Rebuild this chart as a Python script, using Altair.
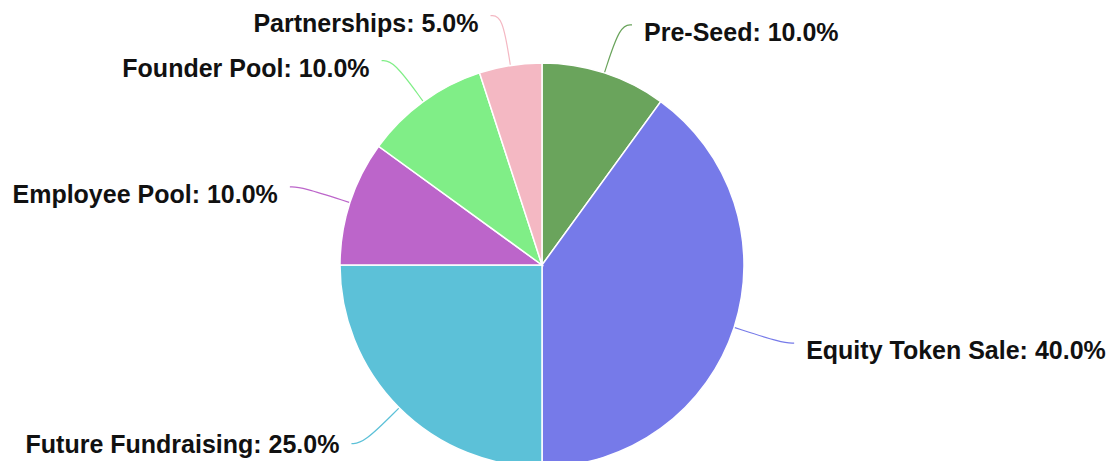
import math
import altair as alt
import pandas as pd

# ---- data ----
categories = ["Pre-Seed", "Equity Token Sale", "Future Fundraising",
              "Employee Pool", "Founder Pool", "Partnerships"]
values = [10.0, 40.0, 25.0, 10.0, 10.0, 5.0]
colors = ["#6aa45c", "#767ae9", "#5cc1d8", "#bc65ca", "#80ee87", "#f4b8c3"]

# ---- layout constants (pixels) ----
W, H = 1101, 453
CX, CY = 534, 257          # pie centre inside the view
R = 202                    # pie radius
ELBOW = 1.25               # connector elbow radius (x R)
HOOK = 12                  # horizontal hook of connector
GAP = 12                   # gap between connector end and label
DY = 8                     # label drop below connector end
BOTTOM_ROOM = 16           # keep label centre this far above the bottom

total = sum(values)
rows, line_rows = [], []
acc = 0.0
for i, (c, v) in enumerate(zip(categories, values)):
    mid = (acc + v / 2) / total * 2 * math.pi
    acc += v
    s, co = math.sin(mid), math.cos(mid)
    side = 1 if s >= 0 else -1
    ex, ey = R * s, R * co
    bx, by = ELBOW * R * s, ELBOW * R * co
    hx = bx + side * HOOK
    ly = by - DY
    ly = max(ly, -(H - CY) + BOTTOM_ROOM)
    rows.append({"cat": c, "value": v, "order": i, "side": side,
                 "label": f"{c}: {v / total * 100:.1f}%",
                 "lx": hx + side * GAP, "ly": ly})
    for k, (px, py) in enumerate([(ex, ey), (bx, by), (hx, by)]):
        line_rows.append({"cat": c, "k": k, "px": px, "py": py})

df = pd.DataFrame(rows)
ldf = pd.DataFrame(line_rows)

xs = alt.Scale(domain=[-CX, W - CX], range=[0, W])
ys = alt.Scale(domain=[-(H - CY), CY], range=[H, 0])
col = alt.Scale(domain=categories, range=colors)

pie = alt.Chart(df).mark_arc(radius=R, stroke="white", strokeWidth=1.5).encode(
    theta=alt.Theta("value:Q", stack=True),
    order=alt.Order("order:Q"),
    color=alt.Color("cat:N", scale=col, legend=None),
    x=alt.XDatum(0, type="quantitative", scale=xs, axis=None),
    y=alt.YDatum(0, type="quantitative", scale=ys, axis=None),
)

lines = alt.Chart(ldf).mark_line(interpolate="basis", strokeWidth=1.2).encode(
    x=alt.X("px:Q", scale=xs, axis=None),
    y=alt.Y("py:Q", scale=ys, axis=None),
    color=alt.Color("cat:N", scale=col, legend=None),
    detail="cat:N",
    order="k:Q",
)

txt_kw = dict(font="Liberation Sans", fontSize=25, fontWeight="bold",
              color="#111111", baseline="middle")
right_txt = alt.Chart(df).transform_filter("datum.side > 0").mark_text(
    align="left", **txt_kw).encode(
    x=alt.X("lx:Q", scale=xs, axis=None),
    y=alt.Y("ly:Q", scale=ys, axis=None),
    text="label:N",
)
left_txt = alt.Chart(df).transform_filter("datum.side < 0").mark_text(
    align="right", **txt_kw).encode(
    x=alt.X("lx:Q", scale=xs, axis=None),
    y=alt.Y("ly:Q", scale=ys, axis=None),
    text="label:N",
)

chart = alt.layer(lines, pie, right_txt, left_txt).properties(
    width=W, height=H, padding=0,
    autosize=alt.AutoSizeParams(type="none"),
).configure_view(stroke=None)

chart.save("out.html", embed_options={"renderer": "svg", "actions": False})
